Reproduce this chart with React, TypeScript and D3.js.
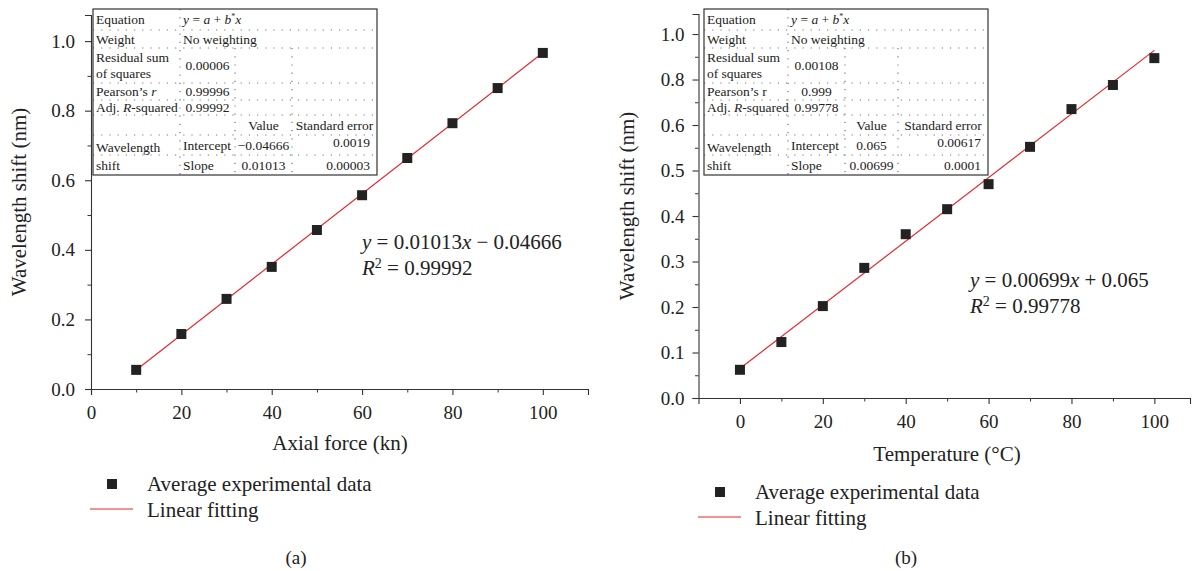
import React, { useEffect, useRef } from 'react';
import * as d3 from 'd3';

// panel (a): axial force test
const forceKN = [10, 20, 30, 40, 50, 60, 70, 80, 90, 100];
const forceShift = [0.055, 0.158, 0.259, 0.351, 0.457, 0.557, 0.664, 0.764, 0.865, 0.966];
const forceFit = { slope: 0.01013, intercept: -0.04666 };
const forceYTicks = [0, 0.2, 0.4, 0.6, 0.8, 1.0];
const forceYTickLabels = ['0.0', '0.2', '0.4', '0.6', '0.8', '1.0'];

// panel (b): temperature test
const tempC = [0, 10, 20, 30, 40, 50, 60, 70, 80, 90, 100];
const tempShift = [0.062, 0.123, 0.202, 0.286, 0.36, 0.415, 0.47, 0.552, 0.635, 0.688, 0.747];
const tempFit = { slope: 0.00699, intercept: 0.065 };
const tempYTicks = [0, 0.1, 0.2, 0.3, 0.4, 0.5, 0.6, 0.7, 0.8];
const tempYTickLabels = ['0.0', '0.1', '0.2', '0.3', '0.4', '0.5', '0.6', '0.8', '1.0'];

const xTicks = [0, 20, 40, 60, 80, 100];

// fit report tables
const forceStats = ['0.00006', '0.99996', '0.99992'];
const forceParams = [['Intercept', '\u22120.04666', '0.0019'], ['Slope', '0.01013', '0.00003']];
const tempStats = ['0.00108', '0.999', '0.99778'];
const tempParams = [['Intercept', '0.065', '0.00617'], ['Slope', '0.00699', '0.0001']];

const FONT = "'Liberation Serif', 'Times New Roman', serif";

const App = () => {
  const ref = useRef<SVGSVGElement>(null);

  useEffect(() => {
    const svg = d3.select(ref.current);
    svg.selectAll('*').remove();

    drawPanel(svg, {
      xs: forceKN, ys: forceShift, fit: forceFit, fitFrom: 10, fitTo: 100,
      xDomain: [0, 110], xRange: [91, 588],
      yDomain: [0, 1.075], yRange: [389, 15],
      yTicks: forceYTicks, yTickLabels: forceYTickLabels,
      yMinor: d3.range(0.1, 1.01, 0.2),
      xMinor: d3.range(10, 111, 20),
      xTitle: 'Axial force (kn)', xTitleX: 340, xTitleY: 450,
      yTitleX: 26,
      eqX: 362, eqY: 249, eqText: ['0.01013', ' \u2212 0.04666'], r2: '0.99992', pearsonItalic: true,
      table: { x: 93, y: 9, cols: [0, 87, 142, 199, 284], stats: forceStats, params: forceParams },
      legendX: 90, legendY: 484, tag: '(a)', tagX: 296,
      yPad: 10,
    });

    drawPanel(svg, {
      xs: tempC, ys: tempShift, fit: tempFit, fitFrom: 0, fitTo: 100,
      xDomain: [-10, 108.6], xRange: [698.5, 1190],
      yDomain: [0, 0.844], yRange: [398, 14],
      yTicks: tempYTicks, yTickLabels: tempYTickLabels,
      yMinor: d3.range(0.05, 0.8, 0.1),
      xMinor: d3.range(10, 101, 20),
      xTitle: 'Temperature (\u00B0C)', xTitleX: 947, xTitleY: 461,
      yTitleX: 634,
      eqX: 970, eqY: 287, eqText: ['0.00699', ' + 0.065'], r2: '0.99778', pearsonItalic: false,
      table: { x: 704, y: 9, cols: [0, 84, 141, 194, 284], stats: tempStats, params: tempParams },
      legendX: 698, legendY: 492, tag: '(b)', tagX: 906,
      yPad: 8,
    });
  }, []);

  const drawPanel = (svg: any, c: any) => {
    const x = d3.scaleLinear().domain(c.xDomain).range(c.xRange);
    const y = d3.scaleLinear().domain(c.yDomain).range(c.yRange);
    const g = svg.append('g');
    const x0 = c.xRange[0];
    const y0 = c.yRange[0];

    // minor ticks first so the main axis line sits on top
    g.append('g')
      .attr('transform', `translate(${x0},0)`)
      .call(d3.axisLeft(y).tickValues(c.yMinor).tickSize(3.5).tickFormat(() => ''))
      .call((s: any) => s.select('.domain').remove());
    g.append('g')
      .attr('transform', `translate(0,${y0})`)
      .call(d3.axisBottom(x).tickValues(c.xMinor).tickSize(3.5).tickFormat(() => ''))
      .call((s: any) => s.select('.domain').remove());

    const yAxis = g.append('g')
      .attr('transform', `translate(${x0},0)`)
      .call(d3.axisLeft(y).tickValues(c.yTicks).tickSize(6).tickSizeOuter(6).tickPadding(c.yPad)
        .tickFormat((d: any, i: number) => c.yTickLabels[i]));
    const xAxis = g.append('g')
      .attr('transform', `translate(0,${y0})`)
      .call(d3.axisBottom(x).tickValues(xTicks).tickSize(6).tickSizeOuter(6).tickPadding(11)
        .tickFormat(d3.format('d')));

    [yAxis, xAxis].forEach((a: any) => {
      a.selectAll('path, line').attr('stroke', '#333').attr('stroke-width', 1.1);
      a.selectAll('text').attr('font-family', FONT).attr('font-size', 19).attr('fill', '#222');
    });
    g.selectAll('.tick line').attr('stroke', '#333');

    // axis titles
    g.append('text')
      .attr('x', c.xTitleX).attr('y', c.xTitleY)
      .attr('text-anchor', 'middle').attr('font-family', FONT).attr('font-size', 21).attr('fill', '#222')
      .text(c.xTitle);
    g.append('text')
      .attr('transform', `translate(${c.yTitleX},${(c.yRange[0] + c.yRange[1]) / 2}) rotate(-90)`)
      .attr('text-anchor', 'middle').attr('font-family', FONT).attr('font-size', 21).attr('fill', '#222')
      .text('Wavelength shift (nm)');

    // linear fit
    const fitLine = d3.line<number>().x(d => x(d)).y(d => y(c.fit.intercept + c.fit.slope * d));
    g.append('path')
      .attr('d', fitLine([c.fitFrom, c.fitTo]))
      .attr('fill', 'none').attr('stroke', '#e8262b').attr('stroke-width', 1.2);

    // experimental points
    g.selectAll('.pt')
      .data(c.xs)
      .enter().append('rect')
      .attr('x', (d: number) => x(d) - 5)
      .attr('y', (d: number, i: number) => y(c.ys[i]) - 5)
      .attr('width', 10).attr('height', 10)
      .attr('fill', '#222');

    // fit equation
    const eq = g.append('text').attr('x', c.eqX).attr('y', c.eqY)
      .attr('font-family', FONT).attr('font-size', 21).attr('fill', '#222');
    eq.append('tspan').attr('font-style', 'italic').text('y');
    eq.append('tspan').text(' = ' + c.eqText[0]);
    eq.append('tspan').attr('font-style', 'italic').text('x');
    eq.append('tspan').text(c.eqText[1]);
    const r2 = g.append('text').attr('x', c.eqX).attr('y', c.eqY + 26)
      .attr('font-family', FONT).attr('font-size', 21).attr('fill', '#222');
    r2.append('tspan').attr('font-style', 'italic').text('R');
    r2.append('tspan').attr('font-size', 14).attr('dy', -7).text('2');
    r2.append('tspan').attr('dy', 7).text(' = ' + c.r2);

    drawTable(g, c.table, c.pearsonItalic);

    // legend
    const lg = g.append('g').attr('font-family', FONT).attr('font-size', 21).attr('fill', '#222');
    lg.append('rect').attr('x', c.legendX + 17).attr('y', c.legendY - 5).attr('width', 10).attr('height', 10).attr('fill', '#222');
    lg.append('text').attr('x', c.legendX + 57).attr('y', c.legendY + 7).text('Average experimental data');
    lg.append('line').attr('x1', c.legendX).attr('x2', c.legendX + 43)
      .attr('y1', c.legendY + 25).attr('y2', c.legendY + 25)
      .attr('stroke', '#e8262b').attr('stroke-width', 1.2);
    lg.append('text').attr('x', c.legendX + 57).attr('y', c.legendY + 33).text('Linear fitting');

    g.append('text').attr('x', c.tagX).attr('y', 564).attr('text-anchor', 'middle')
      .attr('font-family', FONT).attr('font-size', 19).attr('fill', '#222').text(c.tag);
  };

  const drawTable = (g: any, t: any, pearsonItalic: boolean) => {
    const rows = [0, 21, 39, 74, 91, 106, 126, 146, 166];
    const cols = t.cols;
    const tg = g.append('g').attr('transform', `translate(${t.x},${t.y})`)
      .attr('font-family', FONT).attr('font-size', 13.5).attr('fill', '#222');
    const W = cols[4];
    const H = rows[8];

    tg.append('rect').attr('width', W).attr('height', H).attr('fill', '#fff');

    // dotted grid
    const dotted = (s: any) => s.attr('stroke', '#777').attr('stroke-width', 1.2).attr('stroke-dasharray', '1.2,7');
    rows.slice(1, 8).forEach((ry: number) => {
      tg.append('line').attr('x1', 0).attr('x2', W).attr('y1', ry).attr('y2', ry).call(dotted);
    });
    tg.append('line').attr('x1', cols[1]).attr('x2', cols[1]).attr('y1', 0).attr('y2', H).call(dotted);
    [cols[2], cols[3]].forEach((cx: number) => {
      tg.append('line').attr('x1', cx).attr('x2', cx).attr('y1', rows[2]).attr('y2', H).call(dotted);
    });

    tg.append('rect').attr('width', W).attr('height', H)
      .attr('fill', 'none').attr('stroke', '#333').attr('stroke-width', 1.2);

    const base = (i: number) => (rows[i] + rows[i + 1]) / 2 + 4.5;
    const mid = (j: number) => (cols[j] + cols[j + 1]) / 2;
    const txt = (xx: number, yy: number, s: string, anchor = 'start') =>
      tg.append('text').attr('x', xx).attr('y', yy).attr('text-anchor', anchor).text(s);

    txt(3, base(0), 'Equation');
    const eq = tg.append('text').attr('x', cols[1] + 3).attr('y', base(0));
    eq.append('tspan').attr('font-style', 'italic').text('y');
    eq.append('tspan').text(' = ');
    eq.append('tspan').attr('font-style', 'italic').text('a');
    eq.append('tspan').text(' + ');
    eq.append('tspan').attr('font-style', 'italic').text('b');
    eq.append('tspan').attr('font-size', 8).attr('dy', -5).text('*');
    eq.append('tspan').attr('dy', 5).attr('font-style', 'italic').text('x');

    txt(3, base(1), 'Weight');
    txt(cols[1] + 3, base(1), 'No weighting');

    txt(3, rows[2] + 14, 'Residual sum');
    txt(3, rows[2] + 30, 'of squares');
    txt(mid(1), base(2), t.stats[0], 'middle');

    const pr = tg.append('text').attr('x', 3).attr('y', base(3));
    pr.append('tspan').text('Pearson\u2019s ');
    pr.append('tspan').attr('font-style', pearsonItalic ? 'italic' : 'normal').text('r');
    txt(mid(1), base(3), t.stats[1], 'middle');

    const ar = tg.append('text').attr('x', 3).attr('y', base(4));
    ar.append('tspan').text('Adj. ');
    ar.append('tspan').attr('font-style', 'italic').text('R');
    ar.append('tspan').text('-squared');
    txt(mid(1), base(4), t.stats[2], 'middle');

    txt(mid(2), base(5), 'Value', 'middle');
    txt(mid(3), base(5), 'Standard error', 'middle');

    txt(3, base(6) + 2, 'Wavelength');
    txt(3, base(7), 'shift');
    t.params.forEach((p: string[], i: number) => {
      txt(cols[1] + 3, base(6 + i), p[0]);
      txt(mid(2), base(6 + i), p[1], 'middle');
      txt(W - 7, base(6 + i) - (i === 0 ? 3 : 0), p[2], 'end');
    });
  };

  return (
    <svg ref={ref} width={1193} height={571}
      style={{ position: 'absolute', left: 0, top: 0, background: '#fff' }} />
  );
};

export default App;
